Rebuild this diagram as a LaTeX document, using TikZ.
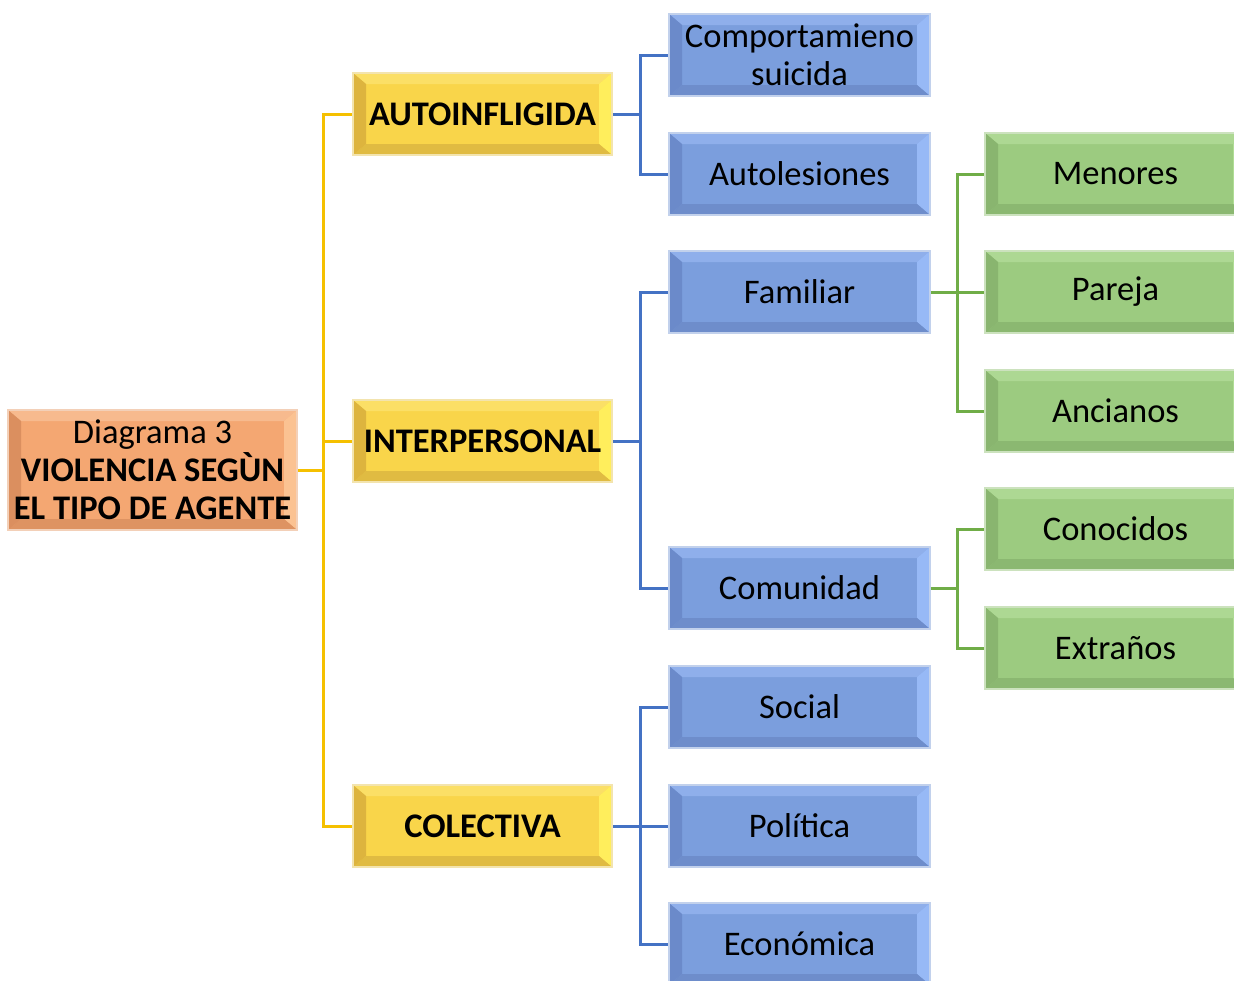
\documentclass[tikz,border=0pt]{standalone}
\usepackage{fontspec}
\setmainfont{Carlito}
\usetikzlibrary{calc}

% bevel colours: face, top, right, bottom, left, rim
\definecolor{yFace}{HTML}{F9D54A}\definecolor{yTop}{HTML}{FBDF66}\definecolor{yRight}{HTML}{FFEE5C}
\definecolor{yBot}{HTML}{E0BB42}\definecolor{yLeft}{HTML}{DDB43E}\definecolor{yRim}{HTML}{F3E4AE}
\definecolor{bFace}{HTML}{7B9EDD}\definecolor{bTop}{HTML}{8FAFEB}\definecolor{bRight}{HTML}{97B9F6}
\definecolor{bBot}{HTML}{6E8DCB}\definecolor{bLeft}{HTML}{6B8ACA}\definecolor{bRim}{HTML}{C2D1EC}
\definecolor{gFace}{HTML}{9CCB80}\definecolor{gTop}{HTML}{ADD893}\definecolor{gRight}{HTML}{B0DD95}
\definecolor{gBot}{HTML}{8BB871}\definecolor{gLeft}{HTML}{89B56F}\definecolor{gRim}{HTML}{CCE2BE}
\definecolor{oFace}{HTML}{F4A772}\definecolor{oTop}{HTML}{F7BA8E}\definecolor{oRight}{HTML}{FBC292}
\definecolor{oBot}{HTML}{DE9362}\definecolor{oLeft}{HTML}{DB8F5F}\definecolor{oRim}{HTML}{F3D0B8}
\definecolor{yLine}{HTML}{F5C000}
\definecolor{bLine}{HTML}{4472C4}
\definecolor{gLine}{HTML}{70AD47}

\tikzset{
  bevel/.style={
    rectangle, inner sep=0pt, align=center,
    font=\fontsize{34.5}{38}\selectfont,
    fill=#1Face, draw=#1Rim, line width=1.5pt,
    path picture={
      \coordinate (NW) at (path picture bounding box.north west);
      \coordinate (NE) at (path picture bounding box.north east);
      \coordinate (SE) at (path picture bounding box.south east);
      \coordinate (SW) at (path picture bounding box.south west);
      \coordinate (nw) at ($(NW)+(13pt,-11pt)$);
      \coordinate (ne) at ($(NE)+(-13pt,-11pt)$);
      \coordinate (se) at ($(SE)+(-13pt,11pt)$);
      \coordinate (sw) at ($(SW)+(13pt,11pt)$);
      \fill[#1Top] (NW) -- (NE) -- (ne) -- (nw) -- cycle;
      \fill[#1Right] (NE) -- (SE) -- (se) -- (ne) -- cycle;
      \fill[#1Bot] (SE) -- (SW) -- (sw) -- (se) -- cycle;
      \fill[#1Left] (SW) -- (NW) -- (nw) -- (sw) -- cycle;
    }
  },
  rootbox/.style={bevel=o, minimum width=289pt, minimum height=120pt},
  ybox/.style={bevel=y, minimum width=259pt, minimum height=82pt, font=\fontsize{34.5}{38}\selectfont\bfseries},
  bbox/.style={bevel=b, minimum width=261pt, minimum height=82pt},
  gbox/.style={bevel=g, minimum width=261pt, minimum height=82pt},
  yconn/.style={draw=yLine, line width=3pt},
  bconn/.style={draw=bLine, line width=3pt},
  gconn/.style={draw=gLine, line width=3pt},
}

\begin{document}
\begin{tikzpicture}[x=1pt,y=-1pt]
\useasboundingbox (0,0) rectangle (1234,980);
\clip (0,0) rectangle (1234,980);

% root
\node[rootbox] (root) at (152.5,470) {Diagrama 3\\\textbf{VIOLENCIA SEGÙN}\\\textbf{EL TIPO DE AGENTE}};

% level 1
\node[ybox] (auto)  at (482.5,114) {AUTOINFLIGIDA};
\node[ybox] (inter) at (482.5,441) {INTERPERSONAL};
\node[ybox] (col)   at (482.5,826) {COLECTIVA};

% level 2
\node[bbox] (comp)  at (799.5,55)  {Comportamieno\\suicida};
\node[bbox] (autol) at (799.5,174) {Autolesiones};
\node[bbox] (fam)   at (799.5,292) {Familiar};
\node[bbox] (comu)  at (799.5,588) {Comunidad};
\node[bbox] (soc)   at (799.5,707) {Social};
\node[bbox] (pol)   at (799.5,826) {Política};
\node[bbox] (eco)   at (799.5,944) {Económica};

% level 3
\node[gbox] (men)  at (1115.5,174) {Menores};
\node[gbox] (par)  at (1115.5,292) {Pareja};
\node[gbox] (anc)  at (1115.5,411) {Ancianos};
\node[gbox] (cono) at (1115.5,529) {Conocidos};
\node[gbox] (ext)  at (1115.5,648) {Extraños};

% trunks
\coordinate (yt) at (323,470);
\coordinate (bt1) at ($(auto.east)+(28pt,0)$);
\coordinate (bt2) at ($(inter.east)+(28pt,0)$);
\coordinate (bt3) at ($(col.east)+(28pt,0)$);
\coordinate (gt1) at ($(fam.east)+(27pt,0)$);
\coordinate (gt2) at ($(comu.east)+(27pt,0)$);

% connectors
\draw[yconn] (root.east) -- (yt);
\draw[yconn] (yt) |- (auto.west);
\draw[yconn] (yt) |- (inter.west);
\draw[yconn] (yt) |- (col.west);

\draw[bconn] (auto.east) -- (bt1);
\draw[bconn] (bt1) |- (comp.west);
\draw[bconn] (bt1) |- (autol.west);
\draw[bconn] (inter.east) -- (bt2);
\draw[bconn] (bt2) |- (fam.west);
\draw[bconn] (bt2) |- (comu.west);
\draw[bconn] (col.east) -- (bt3);
\draw[bconn] (bt3) |- (soc.west);
\draw[bconn] (bt3) |- (pol.west);
\draw[bconn] (bt3) |- (eco.west);

\draw[gconn] (fam.east) -- (gt1);
\draw[gconn] (gt1) |- (men.west);
\draw[gconn] (gt1) |- (par.west);
\draw[gconn] (gt1) |- (anc.west);
\draw[gconn] (comu.east) -- (gt2);
\draw[gconn] (gt2) |- (cono.west);
\draw[gconn] (gt2) |- (ext.west);
\end{tikzpicture}
\end{document}
